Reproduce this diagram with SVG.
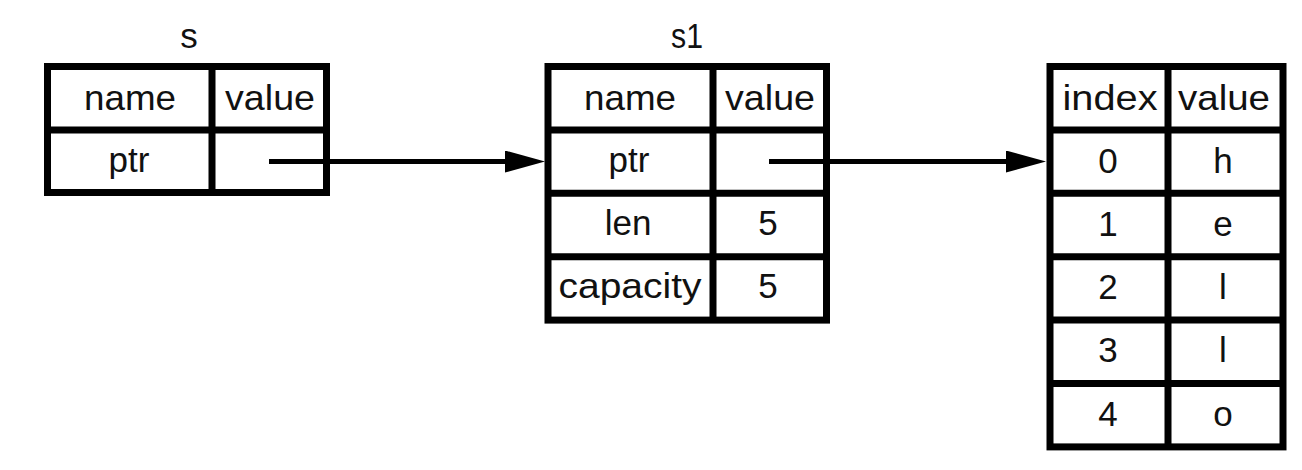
<svg xmlns="http://www.w3.org/2000/svg" width="1302" height="470" viewBox="0 0 1302 470">
<style>
.t{font-family:"Liberation Sans",Arial,sans-serif;font-size:35px;fill:#111;text-anchor:middle}
.b{fill:#fff;stroke:#000;stroke-width:7}
.g{stroke:#000;stroke-width:7;fill:none}
.c{stroke:#000;stroke-width:5;fill:none}
</style>
<defs>
<marker id="ah" markerUnits="userSpaceOnUse" markerWidth="40" markerHeight="22" refX="5" refY="11" orient="auto">
<path d="M0,0 L40,11 L0,22 z" fill="#000"/>
</marker>
</defs>
<rect width="1302" height="470" fill="#fff"/>
<g id="s">
<text class="t" x="189" y="48">s</text>
<rect class="b" x="47.5" y="66.5" width="279" height="126"/>
<path class="g" d="M212,66.5V192.5M47.5,129.9H326.5"/>
<text class="t" x="130" y="110" textLength="92" lengthAdjust="spacingAndGlyphs">name</text>
<text class="t" x="270" y="110" textLength="90" lengthAdjust="spacingAndGlyphs">value</text>
<text class="t" x="129" y="172">ptr</text>
</g>
<g id="s1">
<text class="t" x="687" y="48" textLength="32" lengthAdjust="spacingAndGlyphs">s1</text>
<rect class="b" x="548" y="66.5" width="278.5" height="253.6"/>
<path class="g" d="M713,66.5V320.1M548,129.9H826.5M548,193.3H826.5M548,256.7H826.5"/>
<text class="t" x="630" y="110" textLength="92" lengthAdjust="spacingAndGlyphs">name</text>
<text class="t" x="770" y="110" textLength="90" lengthAdjust="spacingAndGlyphs">value</text>
<text class="t" x="629" y="172">ptr</text>
<text class="t" x="628" y="235">len</text>
<text class="t" x="768" y="235">5</text>
<text class="t" x="630" y="298" textLength="143" lengthAdjust="spacingAndGlyphs">capacity</text>
<text class="t" x="768" y="298">5</text>
</g>
<g id="heap">
<rect class="b" x="1050" y="66.5" width="233" height="380.4"/>
<path class="g" d="M1168,66.5V446.9M1050,129.9H1283M1050,193.3H1283M1050,256.7H1283M1050,320.1H1283M1050,383.5H1283"/>
<text class="t" x="1110" y="110" textLength="95" lengthAdjust="spacingAndGlyphs">index</text>
<text class="t" x="1224" y="110" textLength="92" lengthAdjust="spacingAndGlyphs">value</text>
<text class="t" x="1108" y="173">0</text>
<text class="t" x="1223" y="173">h</text>
<text class="t" x="1108" y="236">1</text>
<text class="t" x="1223" y="236">e</text>
<text class="t" x="1108" y="299">2</text>
<text class="t" x="1223" y="299">l</text>
<text class="t" x="1108" y="362">3</text>
<text class="t" x="1223" y="362">l</text>
<text class="t" x="1108" y="426">4</text>
<text class="t" x="1223" y="426">o</text>
</g>
<g id="connectors">
<path class="c" d="M269,161.5H510" marker-end="url(#ah)"/>
<path class="c" d="M769,161.5H1011" marker-end="url(#ah)"/>
</g>
</svg>
